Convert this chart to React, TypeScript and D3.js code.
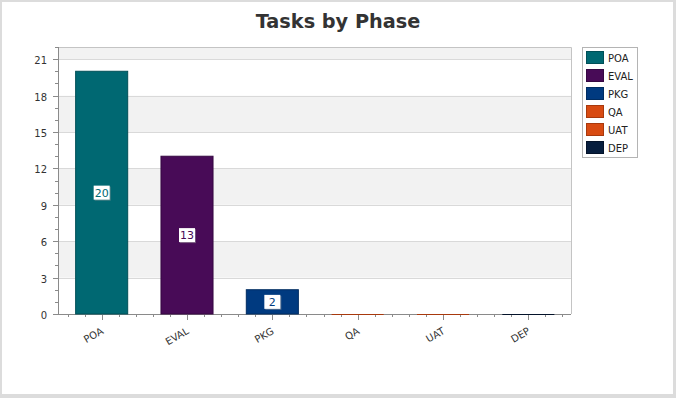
import * as d3 from "d3";

const phases = ["POA", "EVAL", "PKG", "QA", "UAT", "DEP"];
const taskCounts = [20, 13, 2, 0, 0, 0];
const phaseColors = ["#006872", "#480b57", "#003a80", "#d84b12", "#d84b12", "#071e3e"];
const phaseStrokes = ["#004f57", "#360842", "#002c61", "#a8390d", "#a8390d", "#04132a"];
const yTicks = [0, 3, 6, 9, 12, 15, 18, 21];

const W = 676;
const H = 398;
const plot = { left: 59, right: 571, top: 47, bottom: 314 };

const App = () => {
    const x = d3.scaleBand<string>().domain(phases).range([plot.left, plot.right]);
    const y = d3.scaleLinear().domain([0, 22]).range([plot.bottom, plot.top]);
    const bw = x.bandwidth();
    const barW = bw * 0.61;
    const font = "'DejaVu Sans', Verdana, sans-serif";

    // alternating bands between major ticks
    const bands = yTicks.map((v, i) => ({
        from: v,
        to: i + 1 < yTicks.length ? yTicks[i + 1] : 22,
        shaded: i % 2 === 1,
    }));
    const minorY = d3.range(0, 23).filter(v => v % 3 !== 0);
    const xTicks = d3.range(phases.length * 5).map(i => ({
        pos: plot.left + (i + 0.5) * bw / 5,
        major: i % 5 === 2,
    }));

    return (
        <svg width={W} height={H} style={{ position: "absolute", left: 0, top: 0 }}>
            <rect x={0} y={0} width={W} height={H} fill="#dcdcdc" />
            <rect x={2} y={2} width={671} height={392} fill="#ffffff" />

            <text x={338} y={28} textAnchor="middle" fontFamily={font} fontWeight="bold" fontSize={19.3} fill="#333">
                Tasks by Phase
            </text>

            {/* plot background */}
            <rect x={plot.left} y={plot.top} width={plot.right - plot.left} height={plot.bottom - plot.top} fill="#fff" />
            {bands.map((b, i) => (
                <rect key={i} x={plot.left} y={y(b.to)} width={plot.right - plot.left}
                      height={y(b.from) - y(b.to)} fill={b.shaded ? "#f2f2f2" : "#ffffff"} />
            ))}
            {yTicks.filter(v => v > 0).map(v => (
                <line key={v} x1={plot.left} x2={plot.right} y1={Math.round(y(v)) + 0.5} y2={Math.round(y(v)) + 0.5}
                      stroke="#d9d9d9" />
            ))}
            <path d={`M${plot.left},${plot.top + 0.5}H${plot.right + 0.5}V${plot.bottom}`} fill="none" stroke="#c4c4c4" />

            {/* y axis */}
            <line x1={plot.left - 0.5} x2={plot.left - 0.5} y1={plot.top} y2={plot.bottom + 0.5} stroke="#8a8a8a" />
            {yTicks.map(v => (
                <g key={v} transform={`translate(0,${Math.round(y(v)) + 0.5})`}>
                    <line x1={plot.left - 6} x2={plot.left} stroke="#8a8a8a" />
                    <text x={plot.left - 12} y={4} textAnchor="end" fontFamily={font} fontSize={10} fill="#333">{v}</text>
                </g>
            ))}
            {minorY.map(v => (
                <line key={v} x1={plot.left - 4} x2={plot.left} y1={Math.round(y(v)) + 0.5} y2={Math.round(y(v)) + 0.5}
                      stroke="#8a8a8a" />
            ))}

            {/* x axis */}
            <line x1={plot.left - 6} x2={plot.right} y1={plot.bottom + 0.5} y2={plot.bottom + 0.5} stroke="#8a8a8a" />
            {xTicks.map((t, i) => (
                <line key={i} x1={Math.round(t.pos) + 0.5} x2={Math.round(t.pos) + 0.5}
                      y1={plot.bottom} y2={plot.bottom + (t.major ? 6 : 3)} stroke="#8a8a8a" />
            ))}
            {phases.map(p => {
                const cx = (x(p) ?? 0) + bw / 2;
                return (
                    <text key={p} transform={`translate(${cx - 1},${plot.bottom + 13}) rotate(-30)`}
                          textAnchor="end" dy="0.7em" fontFamily={font} fontSize={10} fill="#333">
                        {p}
                    </text>
                );
            })}

            {/* bars */}
            {phases.map((p, i) => {
                const cx = (x(p) ?? 0) + bw / 2;
                const top = y(taskCounts[i]);
                if (taskCounts[i] === 0) {
                    return (
                        <line key={p} x1={cx - barW / 2} x2={cx + barW / 2} y1={plot.bottom + 0.5} y2={plot.bottom + 0.5}
                              stroke={phaseStrokes[i]} strokeWidth={1.2} />
                    );
                }
                return (
                    <g key={p}>
                        <rect x={cx - barW / 2} y={top} width={barW} height={plot.bottom - top}
                              fill={phaseColors[i]} stroke={phaseStrokes[i]} strokeWidth={1} />
                        <g transform={`translate(${cx},${(top + plot.bottom) / 2})`}>
                            <rect x={-7} y={-6} width={16} height={14} fill="#9a9a9a" opacity={0.5} />
                            <rect x={-8} y={-7} width={16} height={14} fill="#fff" />
                            <text y={4} textAnchor="middle" fontFamily={font} fontSize={11} fill={phaseColors[i]}>
                                {taskCounts[i]}
                            </text>
                        </g>
                    </g>
                );
            })}

            {/* legend */}
            <rect x={582.5} y={47.5} width={55} height={110} fill="#fff" stroke="#b4b4b4" />
            {phases.map((p, i) => (
                <g key={p} transform={`translate(586,${51 + i * 18})`}>
                    <rect x={0.5} y={0.5} width={17} height={12} fill={phaseColors[i]} stroke={phaseStrokes[i]} />
                    <text x={22} y={10.5} fontFamily={font} fontSize={10} fill="#222">{p}</text>
                </g>
            ))}
        </svg>
    );
};

export default App;
